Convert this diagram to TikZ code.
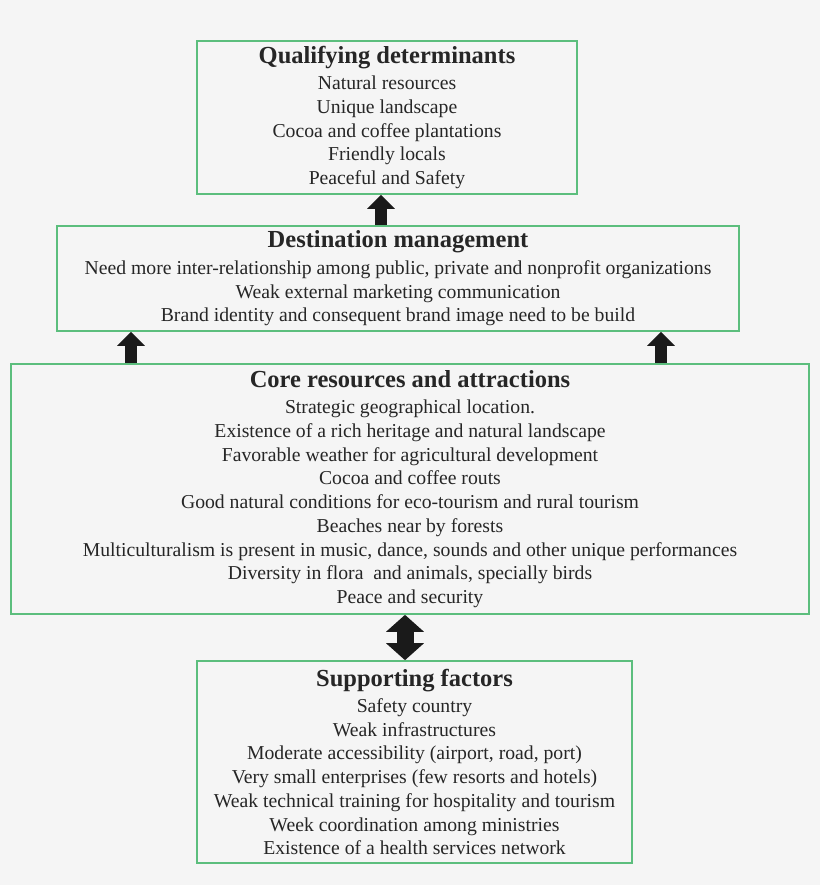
\documentclass[tikz,border=0pt]{standalone}
\usepackage{fontspec}
\setmainfont{Liberation Serif}
\usepackage{xcolor}
\definecolor{boxgreen}{RGB}{92,190,125}
\definecolor{arrowblack}{RGB}{26,26,26}
\definecolor{pagegray}{RGB}{245,245,245}
\usetikzlibrary{arrows.meta}
\newcommand{\heading}[1]{{\fontsize{24.5}{26}\selectfont\bfseries #1}\\[2.6pt]}
\tikzset{
    box/.style={draw=boxgreen, line width=1.6pt, rectangle, inner sep=0pt, align=center,
        text=black!85, font=\fontsize{19.7}{23.75}\selectfont},
    up/.style={-{Triangle[width=27pt,length=14pt]}, line width=12.5pt, arrowblack},
    both/.style={{Triangle[width=37pt,length=17pt]}-{Triangle[width=37pt,length=17pt]}, line width=17pt, arrowblack}
}

\begin{document}
\begin{tikzpicture}[x=1pt,y=-1pt]
    \fill[pagegray] (0,0) rectangle (820,885);

    \node[box, minimum width=380pt, minimum height=153pt] (qual) at (387,117.5) {
        \heading{Qualifying determinants}
        Natural resources\\
        Unique landscape\\
        Cocoa and coffee plantations\\
        Friendly locals\\
        Peaceful and Safety};

    \node[box, minimum width=682pt, minimum height=105pt] (dest) at (398,278.5) {
        \heading{Destination management}
        Need more inter-relationship among public, private and nonprofit organizations\\
        Weak external marketing communication\\
        Brand identity and consequent brand image need to be build};

    \node[box, minimum width=798pt, minimum height=250pt] (core) at (410,489) {
        \heading{Core resources and attractions}
        Strategic geographical location.\\
        Existence of a rich heritage and natural landscape\\
        Favorable weather for agricultural development\\
        Cocoa and coffee routs\\
        Good natural conditions for eco-tourism and rural tourism\\
        Beaches near by forests\\
        Multiculturalism is present in music, dance, sounds and other unique performances\\
        Diversity in flora\ \ and animals, specially birds\\
        Peace and security};

    \node[box, minimum width=435pt, minimum height=202pt] (supp) at (414.5,762) {
        \heading{Supporting factors}
        Safety country\\
        Weak infrastructures\\
        Moderate accessibility (airport, road, port)\\
        Very small enterprises (few resorts and hotels)\\
        Weak technical training for hospitality and tourism\\
        Week coordination among ministries\\
        Existence of a health services network};

    % arrow positions
    \coordinate (x-qual) at (381,0);
    \coordinate (x-left) at (131,0);
    \coordinate (x-right) at (661,0);
    \coordinate (x-supp) at (405,0);

    \draw[up] (dest.north -| x-qual) -- (qual.south -| x-qual);
    \draw[up] (core.north -| x-left) -- (dest.south -| x-left);
    \draw[up] (core.north -| x-right) -- (dest.south -| x-right);
    \draw[both] (supp.north -| x-supp) -- (core.south -| x-supp);
\end{tikzpicture}
\end{document}
